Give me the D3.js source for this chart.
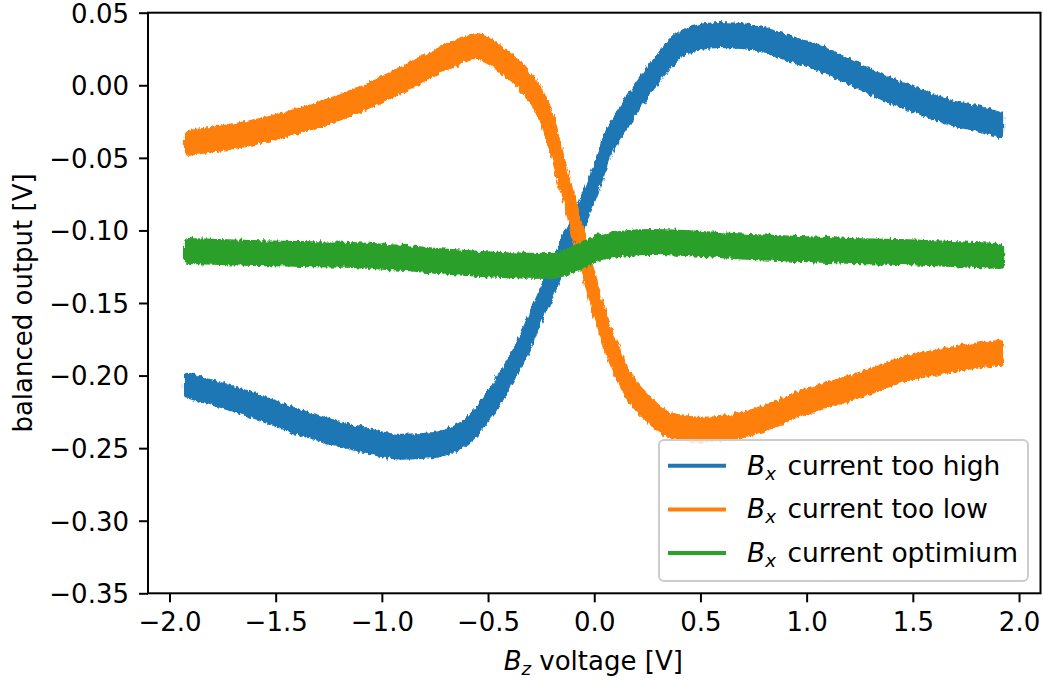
<!DOCTYPE html>
<html>
<head>
<meta charset="utf-8">
<script src="https://cdn.jsdelivr.net/npm/d3@7"></script>
<style>
  html, body { margin: 0; padding: 0; background: #ffffff; }
  svg { display: block; }
  text { font-family: "DejaVu Sans", sans-serif; fill: #000; }
</style>
</head>
<body>
<svg id="chart" width="1043" height="682"></svg>
<script>
// ---------------- data ----------------
const blueX = [-1.911, -1.614, -1.379, -1.143, -0.908, -0.752, -0.672, -0.592, -0.521, -0.437, -0.328, -0.262, -0.192, -0.126, -0.050, 0.011, 0.068, 0.162, 0.270, 0.425, 0.586, 0.741, 0.896, 1.056, 1.212, 1.367, 1.527, 1.682, 1.837, 1.909];
const blueY = [-0.207, -0.2201, -0.2325, -0.2422, -0.249, -0.2478, -0.2445, -0.2375, -0.2255, -0.2075, -0.1775, -0.1547, -0.132, -0.1086, -0.0859, -0.0632, -0.0397, -0.0169, 0.0057, 0.0298, 0.0346, 0.0333, 0.0264, 0.0188, 0.0085, -0.0019, -0.0108, -0.0191, -0.0239, -0.0273];

const orangeX = [-1.911, -1.614, -1.379, -1.143, -0.908, -0.672, -0.554, -0.436, -0.328, -0.239, -0.187, -0.154, -0.102, -0.065, -0.022, 0.020, 0.072, 0.138, 0.260, 0.350, 0.425, 0.505, 0.660, 0.821, 0.976, 1.132, 1.292, 1.447, 1.603, 1.763, 1.909];
const orangeY = [-0.0397, -0.0328, -0.0239, -0.0122, 0.0037, 0.0209, 0.0271, 0.0174, 0.003, -0.017, -0.0398, -0.0600, -0.0875, -0.1086, -0.132, -0.1547, -0.1775, -0.2009, -0.2236, -0.2339, -0.236, -0.2374, -0.2353, -0.2284, -0.2188, -0.2119, -0.2043, -0.1961, -0.1912, -0.1871, -0.1843];

const greenX = [-1.911, -1.614, -1.379, -1.143, -0.908, -0.672, -0.436, -0.201, -0.083, 0.034, 0.270, 0.505, 0.741, 0.976, 1.212, 1.447, 1.682, 1.909];
const greenY = [-0.1141, -0.1155, -0.1162, -0.1169, -0.1189, -0.1217, -0.1238, -0.1245, -0.119, -0.1114, -0.1079, -0.1093, -0.1114, -0.1128, -0.1141, -0.1148, -0.1162, -0.1176];

const seriesNames = ["current too high", "current too low", "current optimium"];
const xTicks = [-2.0, -1.5, -1.0, -0.5, 0.0, 0.5, 1.0, 1.5, 2.0];
const yTicks = [0.05, 0.00, -0.05, -0.10, -0.15, -0.20, -0.25, -0.30, -0.35];
const xDomain = [-2.1011, 2.1011];
const yDomain = [-0.35, 0.05];

// ---------------- layout / style ----------------
const colors = ["#1f77b4", "#ff7f0e", "#2ca02c"];
const FS = 26;
const plot = { left: 148, right: 1040.5, top: 12.7, bottom: 593.3 };

const svg = d3.select("#chart");

const defs = svg.append("defs");
const filt = defs.append("filter").attr("id", "rough")
  .attr("x", "-5%").attr("y", "-20%").attr("width", "110%").attr("height", "140%");
filt.append("feTurbulence").attr("type", "fractalNoise")
  .attr("baseFrequency", "0.35 0.1").attr("numOctaves", 2).attr("seed", 3).attr("result", "noise");
filt.append("feDisplacementMap").attr("in", "SourceGraphic").attr("in2", "noise")
  .attr("scale", 6).attr("xChannelSelector", "R").attr("yChannelSelector", "G");

const x = d3.scaleLinear().domain(xDomain).range([plot.left, plot.right]);
const y = d3.scaleLinear().domain(yDomain).range([plot.bottom, plot.top]);

const clip = defs.append("clipPath").attr("id", "plotclip");
clip.append("rect").attr("x", plot.left).attr("y", plot.top)
  .attr("width", plot.right - plot.left).attr("height", plot.bottom - plot.top);

// bands (noisy data drawn as thick band)
const HALF = 8.5;
const bandArea = d3.area()
  .x(d => x(d[0]))
  .y0(d => y(d[1]) - HALF)
  .y1(d => y(d[1]) + HALF)
  .curve(d3.curveMonotoneX);

const allSeries = [
  blueX.map((v, i) => [v, blueY[i]]),
  orangeX.map((v, i) => [v, orangeY[i]]),
  greenX.map((v, i) => [v, greenY[i]])
];

const gData = svg.append("g").attr("clip-path", "url(#plotclip)");
allSeries.forEach((pts, i) => {
  gData.append("path")
    .datum(pts)
    .attr("d", bandArea)
    .attr("fill", colors[i])
    .attr("stroke", colors[i])
    .attr("stroke-width", 9)
    .attr("stroke-linejoin", "round")
    .attr("stroke-linecap", "round")
    .attr("filter", "url(#rough)");
});

// axes
const fmtX = d => d3.format(".1f")(d).replace("-", "\u2212");
const fmtY = d => d3.format(".2f")(d).replace("-", "\u2212");

const xAxis = d3.axisBottom(x).tickValues(xTicks).tickFormat(fmtX).tickSize(9).tickPadding(8);
const yAxis = d3.axisLeft(y).tickValues(yTicks).tickFormat(fmtY).tickSize(9).tickPadding(10);

const gx = svg.append("g").attr("transform", `translate(0,${plot.bottom})`).call(xAxis);
const gy = svg.append("g").attr("transform", `translate(${plot.left},0)`).call(yAxis);
[gx, gy].forEach(g => {
  g.select(".domain").remove();
  g.selectAll(".tick line").attr("stroke", "#000").attr("stroke-width", 2);
  g.selectAll(".tick text").attr("font-size", FS).attr("font-family", "DejaVu Sans").attr("fill", "#000");
});
gx.selectAll(".tick text").attr("dy", "0.78em");
gy.selectAll(".tick text").attr("dy", "0.36em");

// spines
svg.append("rect")
  .attr("x", plot.left).attr("y", plot.top)
  .attr("width", plot.right - plot.left).attr("height", plot.bottom - plot.top)
  .attr("fill", "none").attr("stroke", "#000").attr("stroke-width", 2);

// axis labels
const xl = svg.append("text")
  .attr("x", (plot.left + plot.right) / 2 - 1).attr("y", 670)
  .attr("text-anchor", "middle").attr("font-size", FS);
xl.append("tspan").attr("font-style", "italic").text("B");
xl.append("tspan").attr("font-style", "italic").attr("font-size", FS * 0.7).attr("dy", 5).text("z");
xl.append("tspan").attr("dy", -5).text(" voltage [V]");

svg.append("text")
  .attr("transform", `translate(32,${(plot.top + plot.bottom) / 2}) rotate(-90)`)
  .attr("text-anchor", "middle").attr("font-size", FS)
  .text("balanced output [V]");

// legend
const lg = svg.append("g");
lg.append("rect")
  .attr("x", 659).attr("y", 440).attr("width", 369).attr("height", 141)
  .attr("rx", 5).attr("ry", 5)
  .attr("fill", "#ffffff").attr("fill-opacity", 0.8)
  .attr("stroke", "#cccccc").attr("stroke-width", 2);
seriesNames.forEach((name, i) => {
  const cy = 465.7 + i * 43.7;
  lg.append("line")
    .attr("x1", 668).attr("x2", 726).attr("y1", cy).attr("y2", cy)
    .attr("stroke", colors[i]).attr("stroke-width", 4);
  const t = lg.append("text").attr("x", 747).attr("y", cy + 9).attr("font-size", FS + 0.5);
  t.append("tspan").attr("font-style", "italic").text("B");
  t.append("tspan").attr("font-style", "italic").attr("font-size", FS * 0.7).attr("dy", 5).text("x");
  t.append("tspan").attr("dy", -5).attr("dx", 3).text(" " + name);
});
</script>
</body>
</html>
